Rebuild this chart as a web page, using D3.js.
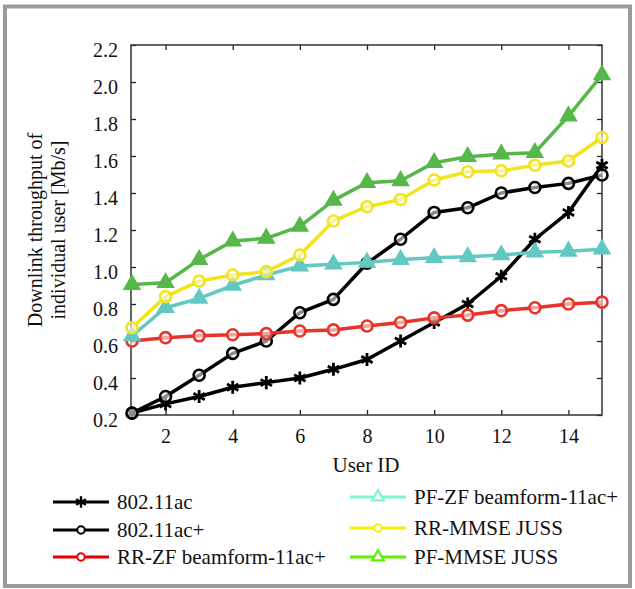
<!DOCTYPE html>
<html><head><meta charset="utf-8">
<script src="https://cdn.jsdelivr.net/npm/d3@7/dist/d3.min.js"></script>
<style>body{margin:0;background:#fff}svg{display:block}
svg text{font-family:"Liberation Serif","Tinos","Times New Roman","DejaVu Serif",serif !important;fill:#111}</style>
</head><body>
<script>
const users = [1,2,3,4,5,6,7,8,9,10,11,12,13,14,15];
const s80211ac     = [0.21,0.26,0.30,0.35,0.375,0.40,0.447,0.50,0.60,0.70,0.80,0.95,1.15,1.295,1.55];
const s80211acPlus = [0.21,0.30,0.415,0.533,0.60,0.753,0.825,1.02,1.15,1.295,1.32,1.40,1.43,1.452,1.497];
const rrZf         = [0.60,0.618,0.628,0.634,0.64,0.654,0.66,0.681,0.70,0.725,0.74,0.764,0.78,0.80,0.81];
const pfZf         = [0.627,0.78,0.83,0.90,0.957,1.005,1.015,1.025,1.04,1.05,1.055,1.065,1.08,1.085,1.096];
const rrMmse       = [0.672,0.84,0.924,0.957,0.975,1.065,1.249,1.326,1.365,1.47,1.515,1.52,1.55,1.573,1.70];
const pfMmse       = [0.905,0.915,1.04,1.14,1.155,1.22,1.36,1.456,1.466,1.564,1.596,1.61,1.618,1.816,2.038];
const seriesNames  = ["802.11ac","802.11ac+","RR-ZF beamform-11ac+","PF-ZF beamform-11ac+","RR-MMSE JUSS","PF-MMSE JUSS"];
const xTicks = [2,4,6,8,10,12,14];
const yTicks = [0.2,0.4,0.6,0.8,1.0,1.2,1.4,1.6,1.8,2.0,2.2];

const FONT = '"Liberation Serif", Tinos, "Times New Roman", "DejaVu Serif", serif';
const W = 635, H = 589;
const L = 131, R = 602, T = 45, B = 415;
const svg = d3.select("body").append("svg").attr("width", W).attr("height", H)
  .attr("font-family", FONT).style("font-family", FONT);

svg.append("rect").attr("x",5).attr("y",6.5).attr("width",625).attr("height",579.5)
  .attr("fill","none").attr("stroke","#9a9a9a").attr("stroke-width",4);

const x = d3.scaleLinear().domain([1,15]).range([L+1, R]);
const y = d3.scaleLinear().domain([0.2,2.2]).range([B, T]);

const tl = 5;
function styleAxis(g){
  g.attr("font-family", FONT);
  g.select(".domain").remove();
  g.selectAll("line").attr("stroke","#222").attr("stroke-width",1.3);
  g.selectAll("text").attr("font-size",20).attr("fill","#111").style("font-family", FONT);
}
svg.append("g").attr("transform",`translate(0,${B})`)
  .call(d3.axisBottom(x).tickValues(xTicks).tickSize(-tl).tickPadding(14).tickFormat(d3.format("d")))
  .call(styleAxis);
svg.append("g").attr("transform",`translate(0,${T})`)
  .call(d3.axisTop(x).tickValues(xTicks).tickSize(-tl).tickFormat(""))
  .call(styleAxis);
svg.append("g").attr("transform",`translate(${L},0)`)
  .call(d3.axisLeft(y).tickValues(yTicks).tickSize(-tl).tickPadding(13).tickFormat(d3.format(".1f")))
  .call(styleAxis)
  .call(g=>g.selectAll("text").attr("dy","0.55em"));
svg.append("g").attr("transform",`translate(${R},0)`)
  .call(d3.axisRight(y).tickValues(yTicks).tickSize(-tl).tickFormat(""))
  .call(styleAxis);
svg.append("rect").attr("x",L).attr("y",T).attr("width",R-L).attr("height",B-T)
  .attr("fill","none").attr("stroke","#333").attr("stroke-width",1.5);

svg.append("text").attr("x",366).attr("y",472).attr("text-anchor","middle").attr("font-size",21).text("User ID");
const yl = svg.append("text").attr("transform","translate(42,230) rotate(-90)").attr("text-anchor","middle").attr("font-size",20);
yl.append("tspan").attr("x",0).attr("dy",0).text("Downlink throughput of");
yl.append("tspan").attr("x",0).attr("dy",23).text("individual user [Mb/s]");

const plotSeries = [
  {v:s80211ac,     c:"#000000", m:"star"},
  {v:s80211acPlus, c:"#000000", m:"circle"},
  {v:rrZf,         c:"#e8332a", m:"circle"},
  {v:pfZf,         c:"#63c8c2", m:"tri"},
  {v:rrMmse,       c:"#f2e41c", m:"circle"},
  {v:pfMmse,       c:"#55b848", m:"tri"}
];
const legendColors = ["#000000","#000000","#e60000","#7ff5cc","#f5f000","#5ef000"];

const line = d3.line().x((d,i)=>x(users[i])).y(d=>y(d));
function marker(g, type, color, px, py, scale, legend){
  if(type==="circle"){
    g.append("circle").attr("cx",px).attr("cy",py).attr("r",(legend?5:5.5)*scale)
      .attr("fill","#fff").attr("fill-opacity",legend?1:0.55).attr("stroke",color).attr("stroke-width",2.6*scale);
  } else if(type==="tri"){
    g.append("path").attr("d",d3.symbol(d3.symbolTriangle, (legend?60:110)*scale)())
      .attr("transform",`translate(${px},${py})`)
      .attr("fill",legend?"#fff":color).attr("stroke",color).attr("stroke-width",legend?2.2:1.5);
  } else {
    g.append("path").attr("d",d3.symbol(d3.symbolAsterisk, (legend?90:120)*scale)())
      .attr("transform",`translate(${px},${py})`)
      .attr("fill","none").attr("stroke",color).attr("stroke-width",legend?2.4:2.8);
  }
}
plotSeries.forEach(s=>{
  const g = svg.append("g");
  g.append("path").attr("d",line(s.v)).attr("fill","none").attr("stroke",s.c).attr("stroke-width",3.5).attr("stroke-linejoin","round");
  s.v.forEach((d,i)=>marker(g, s.m, s.c, x(users[i]), y(d), 1, false));
});

const legPos = [
  {lx:53, ly:502},{lx:53, ly:530},{lx:53, ly:557},
  {lx:350, ly:497},{lx:350, ly:528},{lx:350, ly:557}
];
seriesNames.forEach((n,i)=>{
  const p = legPos[i], c = legendColors[i], m = plotSeries[i].m;
  const g = svg.append("g");
  g.append("line").attr("x1",p.lx).attr("x2",p.lx+56).attr("y1",p.ly).attr("y2",p.ly).attr("stroke",c).attr("stroke-width",2.8);
  marker(g, m, c, p.lx+28, p.ly, m==="circle"?0.75:1, true);
  g.append("text").attr("x",p.lx+64).attr("y",p.ly+7).attr("font-size",21).text(n);
});
</script>
</body></html>
